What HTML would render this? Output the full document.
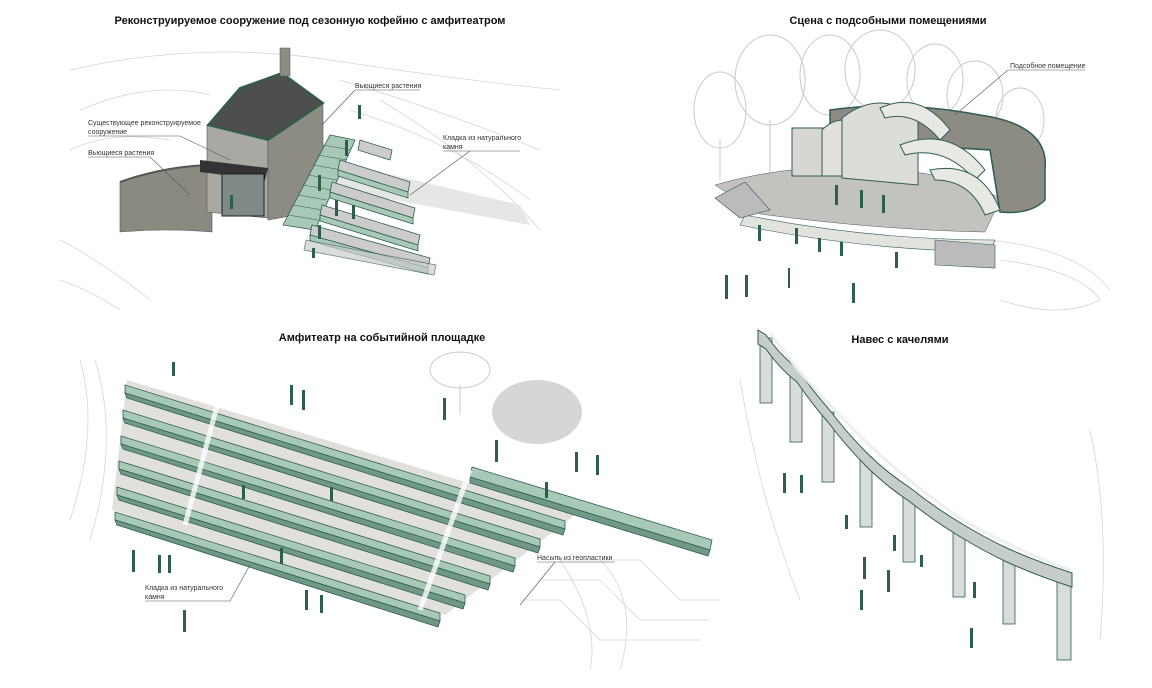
<!DOCTYPE html>
<html><head><meta charset="utf-8"><style>
html,body{margin:0;padding:0;background:#fff}
svg{display:block}
text{font-family:"Liberation Sans",sans-serif}
.t{font-size:11px;font-weight:bold;fill:#111;text-anchor:middle}
.l{font-size:7px;fill:#333}
.ln{stroke:#555;stroke-width:0.6;fill:none}
.bg{stroke:#d4d6d4;stroke-width:0.8;fill:none}
.p{fill:#2e5e4c}
</style></head><body>
<svg width="1152" height="688" viewBox="0 0 1152 688" xmlns="http://www.w3.org/2000/svg">
<rect width="1152" height="688" fill="#fff"/>
<g class="bg">
<path d="M70 70 Q200 40 330 60 T560 90"/><path d="M80 110 Q150 80 210 95"/><path d="M340 80 Q440 110 540 150"/>
<path d="M350 110 Q450 140 530 200"/><path d="M380 100 Q480 160 540 230"/><path d="M70 150 Q110 130 170 140"/>
<path d="M60 240 Q100 260 150 300"/><path d="M60 280 Q90 290 120 310"/>
<path d="M80 360 Q100 430 70 520"/><path d="M95 360 Q120 440 90 540"/>
<path d="M600 560 Q640 600 620 670"/><path d="M560 560 Q600 620 590 670"/>
<path d="M520 600 L560 600 L600 640 L700 640"/><path d="M540 580 L600 580 L640 620 L710 620"/><path d="M560 560 L640 560 L680 600 L720 600"/>
<path d="M1000 260 Q1080 270 1100 300 Q1060 320 1000 300"/><path d="M990 240 Q1080 250 1110 290"/>
<path d="M740 380 Q760 500 800 600"/><path d="M1090 430 Q1110 520 1100 640"/>
</g>
<g stroke="#c8cac8" stroke-width="1" fill="none">
<ellipse cx="720" cy="110" rx="26" ry="38"/><path d="M720 140 V180"/>
<ellipse cx="770" cy="80" rx="35" ry="45"/><path d="M770 120 V175"/>
<ellipse cx="830" cy="75" rx="30" ry="40"/>
<ellipse cx="880" cy="70" rx="35" ry="40"/>
<ellipse cx="935" cy="80" rx="28" ry="36"/>
<ellipse cx="975" cy="95" rx="28" ry="34"/>
<ellipse cx="1020" cy="120" rx="24" ry="32"/><path d="M1020 150 V185"/>
<ellipse cx="460" cy="370" rx="30" ry="18"/><path d="M460 385 V415"/>
</g>

<text class="t" x="310" y="24">Реконструируемое сооружение под сезонную кофейню с амфитеатром</text>
<text class="t" x="888" y="24">Сцена с подсобными помещениями</text>
<text class="t" x="382" y="341">Амфитеатр на событийной площадке</text>
<text class="t" x="900" y="343">Навес с качелями</text>

<!-- Panel 1 -->
<polygon points="330,160 520,205 530,225 340,190" fill="#e6e6e4"/>
<path d="M120 182 Q165 166 212 165 L212 232 Q165 228 120 232 Z" fill="#8a8a80" stroke="#555" stroke-width="0.6"/>
<path d="M120 182 Q165 166 212 165" stroke="#555" fill="none" stroke-width="2"/>
<polygon points="207,125 242,92 268,138 268,218 207,212" fill="#a9a8a2" stroke="#555" stroke-width="0.6"/>
<polygon points="268,138 323,103 323,210 268,220" fill="#8d8c84" stroke="#555" stroke-width="0.6"/>
<polygon points="208,125 240,88 282,73 323,103 268,140" fill="#4c4f4c" stroke="#2e5e4c" stroke-width="2"/>
<rect x="280" y="48" width="10" height="28" fill="#8d8c84" stroke="#555" stroke-width="0.5"/>
<polygon points="200,160 268,168 265,180 200,172" fill="#333"/>
<rect x="222" y="174" width="42" height="42" fill="#7f8a88" stroke="#222" stroke-width="1"/>
<polygon points="283,225 330,135 355,140 315,230" fill="#a8c8b8" stroke="#2e5e4c" stroke-width="0.8"/>
<g stroke="#2e5e4c" stroke-width="0.5"><path d="M288 215 L318 220 M293 205 L322 210 M298 195 L327 200 M303 185 L332 190 M308 175 L337 180 M313 165 L342 170 M318 155 L347 160 M323 145 L351 150"/></g>
<g stroke="#2e5e4c" stroke-width="0.8">
<polygon points="360,140 392,150 390,160 358,150" fill="#ccc"/>
<polygon points="340,160 410,182 408,192 338,170" fill="#ccc"/><polygon points="338,170 408,192 408,198 338,176" fill="#a8c8b8"/>
<polygon points="332,182 415,208 413,218 330,192" fill="#ccc"/><polygon points="330,192 413,218 413,224 330,198" fill="#a8c8b8"/>
<polygon points="322,205 420,235 418,245 320,215" fill="#ccc"/><polygon points="320,215 418,245 418,251 320,221" fill="#a8c8b8"/>
<polygon points="312,225 430,258 428,268 310,235" fill="#ccc"/><polygon points="310,235 428,268 428,274 310,241" fill="#a8c8b8"/>
<polygon points="306,240 436,265 434,275 304,250" fill="#ccc" opacity="0.7"/>
</g>
<g class="l"><text x="88" y="125">Существующее реконструируемое</text><text x="88" y="134">сооружение</text>
<text x="88" y="155">Вьющиеся растения</text><text x="355" y="88">Вьющиеся растения</text>
<text x="443" y="140">Кладка из натурального</text><text x="443" y="149">камня</text></g>
<g class="ln"><path d="M88 136 H180 L230 160"/><path d="M88 157 H150 L190 195"/><path d="M355 90 H420"/><path d="M355 90 L322 125"/><path d="M443 151 H520 M470 151 L410 195"/></g>

<!-- Panel 2 -->
<path d="M715 185 Q800 160 900 170 Q980 180 1000 200 L985 232 Q880 230 760 214 Z" fill="#c2c2be" stroke="#555" stroke-width="0.5"/>
<path d="M745 215 Q870 240 995 240 L990 252 Q860 250 740 225 Z" fill="#e2e2de" stroke="#2e5e4c" stroke-width="0.6"/>
<path d="M830 110 Q900 100 980 115 Q1050 125 1045 170 L1045 200 Q1030 215 1000 212 L990 150 L830 140 Z" fill="#8c8b84" stroke="#2e5e4c" stroke-width="1.5"/>
<rect x="792" y="128" width="32" height="48" fill="#d6d6d2" stroke="#2e5e4c"/>
<path d="M822 176 V130 Q842 110 864 130 V176 Z" fill="#e0e0dc" stroke="#2e5e4c"/>
<path d="M842 178 V118 Q880 88 918 118 V185 Z" fill="#dcdcd8" stroke="#2e5e4c"/>
<path d="M880 108 Q920 90 950 130 L940 140 Q915 110 885 118 Z" fill="#e8e8e4" stroke="#2e5e4c"/>
<path d="M900 145 Q950 125 985 170 L975 180 Q945 145 905 155 Z" fill="#e8e8e4" stroke="#2e5e4c"/>
<path d="M930 170 Q980 160 1000 210 L985 215 Q970 180 935 180 Z" fill="#e8e8e4" stroke="#2e5e4c"/>
<polygon points="715,198 745,182 770,210 740,218" fill="#bbb" stroke="#2e5e4c" stroke-width="0.6"/>
<polygon points="935,240 995,245 995,268 935,265" fill="#bbb" stroke="#2e5e4c" stroke-width="0.6"/>
<text class="l" x="1010" y="68">Подсобное помещение</text>
<path class="ln" d="M1008 70 H1085 M1008 70 L955 115"/>

<!-- Panel 3 -->
<polygon points="127,380 575,515 445,615 112,510" fill="#e2e0dc"/>
<g stroke="#2e5e4c" stroke-width="0.8">
<polygon points="125,385 565,521 565,529 125,393" fill="#a8c8b8"/><polygon points="125,393 565,529 563,535 127,398" fill="#6f9886"/>
<polygon points="123,410 540,539 540,547 123,418" fill="#a8c8b8"/><polygon points="123,418 540,547 538,553 125,423" fill="#6f9886"/>
<polygon points="121,436 515,558 515,566 121,444" fill="#a8c8b8"/><polygon points="121,444 515,566 513,572 123,449" fill="#6f9886"/>
<polygon points="119,461 490,576 490,584 119,469" fill="#a8c8b8"/><polygon points="119,469 490,584 488,590 121,474" fill="#6f9886"/>
<polygon points="117,487 465,595 465,603 117,495" fill="#a8c8b8"/><polygon points="117,495 465,603 463,609 119,500" fill="#6f9886"/>
<polygon points="115,512 440,613 440,621 115,520" fill="#a8c8b8"/><polygon points="115,520 440,621 438,627 117,525" fill="#6f9886"/>
<polygon points="472,467 712,540 710,550 470,477" fill="#a8c8b8"/><polygon points="470,477 710,550 708,556 470,483" fill="#6f9886"/>
</g>
<g stroke="#fff" stroke-width="5" opacity="0.8"><path d="M220 395 L185 525"/><path d="M470 470 L420 610"/></g>
<ellipse cx="537" cy="412" rx="45" ry="32" fill="#d6d6d4"/>
<g class="l"><text x="145" y="590">Кладка из натурального</text><text x="145" y="599">камня</text><text x="537" y="560">Насыпь из геопластики</text></g>
<g class="ln"><path d="M145 601 H230 L250 565"/><path d="M537 562 H615 M555 562 L520 605"/></g>

<!-- Panel 4 -->
<g fill="#d8dcda" stroke="#2e5e4c" stroke-width="0.8">
<rect x="760" y="338" width="12" height="65"/><rect x="790" y="372" width="12" height="70"/>
<rect x="822" y="412" width="12" height="70"/><rect x="860" y="457" width="12" height="70"/>
<rect x="903" y="492" width="12" height="70"/><rect x="953" y="527" width="12" height="70"/>
<rect x="1003" y="554" width="12" height="70"/><rect x="1057" y="578" width="14" height="82"/>
</g>
<path d="M758 330 L766 335 Q780 355 797 368 Q812 390 828 408 Q846 432 866 452 Q886 472 909 487 Q934 507 959 522 Q985 538 1009 549 Q1038 562 1072 573 L1072 587 Q1038 576 1009 563 Q985 552 959 536 Q934 521 909 501 Q886 486 866 466 Q846 446 828 422 Q812 404 797 382 Q780 369 766 349 L758 344 Z" fill="#c7cdca" stroke="#2e5e4c" stroke-width="1"/>
<path d="M770 333 Q800 375 835 410 Q890 470 960 518 Q1010 548 1070 570" stroke="#eef0ee" stroke-width="3" fill="none"/>

<g class="p">
<rect x="358" y="105" width="3" height="14"/><rect x="345" y="140" width="3" height="16"/><rect x="318" y="175" width="3" height="16"/>
<rect x="352" y="205" width="3" height="14"/><rect x="335" y="200" width="3" height="16"/><rect x="318" y="225" width="3" height="14"/>
<rect x="230" y="195" width="3" height="14"/><rect x="312" y="248" width="3" height="10"/>
<rect x="835" y="185" width="3" height="20"/><rect x="860" y="190" width="3" height="18"/><rect x="882" y="195" width="3" height="18"/>
<rect x="758" y="225" width="3" height="16"/><rect x="795" y="228" width="3" height="16"/><rect x="818" y="238" width="3" height="14"/>
<rect x="840" y="242" width="3" height="14"/><rect x="895" y="252" width="3" height="16"/><rect x="725" y="275" width="3" height="24"/>
<rect x="745" y="275" width="3" height="22"/><rect x="788" y="268" width="2" height="20"/><rect x="852" y="283" width="3" height="20"/>
<rect x="172" y="362" width="3" height="14"/><rect x="290" y="385" width="3" height="20"/><rect x="302" y="390" width="3" height="20"/>
<rect x="443" y="398" width="3" height="22"/><rect x="495" y="440" width="3" height="22"/><rect x="575" y="452" width="3" height="20"/>
<rect x="596" y="455" width="3" height="20"/><rect x="545" y="482" width="3" height="16"/><rect x="132" y="550" width="3" height="22"/>
<rect x="158" y="555" width="3" height="18"/><rect x="168" y="555" width="3" height="18"/><rect x="183" y="610" width="3" height="22"/>
<rect x="305" y="590" width="3" height="20"/><rect x="320" y="595" width="3" height="18"/><rect x="242" y="485" width="3" height="14"/>
<rect x="330" y="487" width="3" height="14"/><rect x="280" y="548" width="3" height="16"/>
<rect x="783" y="473" width="3" height="20"/><rect x="800" y="475" width="3" height="18"/><rect x="845" y="515" width="3" height="14"/>
<rect x="863" y="557" width="3" height="22"/><rect x="887" y="570" width="3" height="22"/><rect x="893" y="535" width="3" height="16"/>
<rect x="973" y="582" width="3" height="16"/><rect x="860" y="590" width="3" height="20"/><rect x="970" y="628" width="3" height="20"/>
<rect x="920" y="555" width="3" height="12"/>
</g>
</svg>
</body></html>
